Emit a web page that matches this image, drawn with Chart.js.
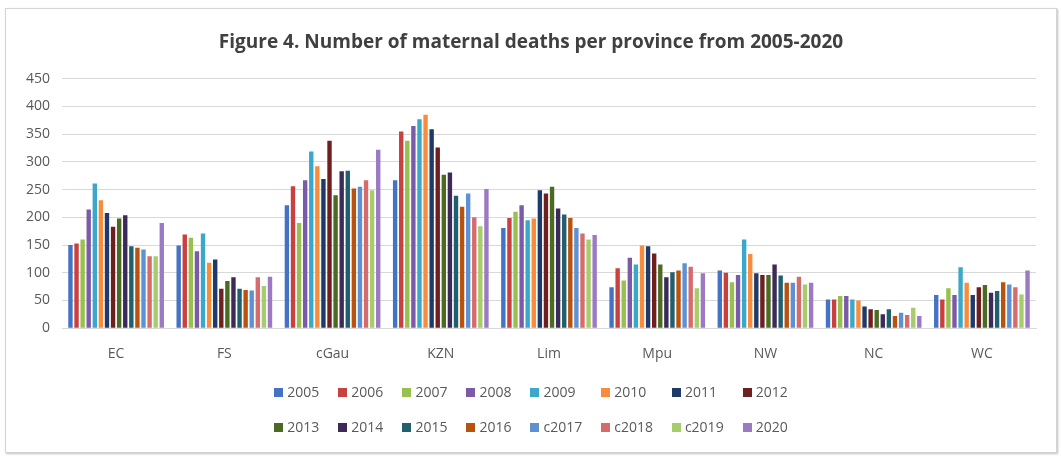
<!DOCTYPE html>
<html>
<head>
<meta charset="utf-8">
<script src="https://cdn.jsdelivr.net/npm/chart.js@4.4.1/dist/chart.umd.min.js"></script>
<style>
    body {
        margin: 0;
        background: #fff;
        font-family: "Open Sans", sans-serif;
    }
    #frame {
        position: absolute;
        left: 5px;
        top: 8px;
        width: 1050px;
        height: 443px;
        border: 1px solid #d4d4d4;
        box-shadow: 1px 1px 2px rgba(0, 0, 0, 0.25);
        background: #fff;
    }
    #chartBox {
        position: relative;
        width: 1050px;
        height: 383px;
    }
    #legend {
        position: absolute;
        left: 0;
        right: 0;
        top: 375px;
        display: grid;
        grid-template-columns: repeat(8, auto);
        justify-content: center;
        row-gap: 19px;
        column-gap: 19px;
        font-size: 14px;
        color: #595959;
    }
    #legend .item {
        display: flex;
        align-items: center;
        line-height: 16px;
    }
    #legend .box {
        width: 9px;
        height: 9px;
        margin-right: 4px;
    }
</style>
</head>
<body>
<div id="frame">
    <div id="chartBox"><canvas id="deathsChart"></canvas></div>
    <div id="legend"></div>
</div>
<script>
Chart.defaults.font.family = "'Open Sans', sans-serif";
Chart.defaults.color = "#595959";

// Provinces on the x axis
const provinces = ["EC", "FS", "cGau", "KZN", "Lim", "Mpu", "NW", "NC", "WC"];

// Series names (one per year)
const years = ["2005", "2006", "2007", "2008", "2009", "2010", "2011", "2012",
    "2013", "2014", "2015", "2016", "c2017", "c2018", "c2019", "2020"];

// Maternal deaths, one row per year, in province order
const deaths = [
    [150, 149, 222, 267, 181, 74, 104, 52, 60],   // 2005
    [153, 169, 256, 355, 199, 108, 100, 52, 52],  // 2006
    [160, 163, 190, 338, 210, 86, 83, 58, 72],    // 2007
    [214, 139, 267, 365, 222, 127, 96, 58, 60],   // 2008
    [261, 171, 319, 377, 195, 115, 160, 52, 110], // 2009
    [231, 118, 292, 385, 198, 149, 134, 50, 82],  // 2010
    [208, 124, 269, 359, 249, 148, 99, 39, 60],   // 2011
    [183, 71, 338, 326, 243, 135, 96, 34, 74],    // 2012
    [198, 85, 240, 277, 255, 115, 96, 33, 78],    // 2013
    [204, 92, 283, 281, 216, 92, 115, 25, 64],    // 2014
    [148, 71, 284, 239, 205, 101, 95, 34, 67],    // 2015
    [145, 69, 252, 219, 199, 104, 82, 22, 83],    // 2016
    [142, 68, 255, 243, 181, 117, 82, 28, 79],    // c2017
    [130, 92, 267, 200, 171, 111, 93, 24, 74],    // c2018
    [130, 76, 249, 184, 160, 72, 79, 37, 61],     // c2019
    [190, 93, 322, 251, 168, 99, 82, 22, 104],    // 2020
];

// Y axis ticks
const yTicks = [0, 50, 100, 150, 200, 250, 300, 350, 400, 450];

// Office-style palette
const palette = [
    "#4472c4", "#c9413f", "#97c04e", "#7b5ba8", "#3ba8c9", "#f98b3c",
    "#1f3a68", "#6e1f1f", "#4b6b22", "#3c2b58", "#1f5f6e", "#b9520f",
    "#5d91d4", "#d66b6b", "#a7cc6b", "#9b7ac3",
];

// HTML legend (two rows of eight like the original)
const htmlLegend = {
    id: "htmlLegend",
    afterUpdate(chart) {
        const el = document.getElementById("legend");
        el.innerHTML = "";
        chart.data.datasets.forEach((ds) => {
            const item = document.createElement("div");
            item.className = "item";
            const box = document.createElement("span");
            box.className = "box";
            box.style.background = ds.backgroundColor;
            const txt = document.createElement("span");
            txt.textContent = ds.label;
            item.appendChild(box);
            item.appendChild(txt);
            el.appendChild(item);
        });
    },
};

const ctx = document.getElementById("deathsChart").getContext("2d");
new Chart(ctx, {
    type: "bar",
    data: {
        labels: provinces,
        datasets: years.map((year, i) => ({
            label: year,
            data: deaths[i],
            backgroundColor: palette[i],
            barPercentage: 0.72,
            categoryPercentage: 0.9,
        })),
    },
    options: {
        responsive: true,
        maintainAspectRatio: false,
        animation: false,
        layout: {
            padding: { left: 0, right: 0, bottom: 13 },
        },
        plugins: {
            legend: { display: false },
            tooltip: { enabled: false },
            title: {
                display: true,
                text: "Figure 4. Number of maternal deaths per province from 2005-2020",
                color: "#404040",
                font: { size: 19, weight: "bold" },
                padding: { top: 22, bottom: 25 },
            },
        },
        scales: {
            y: {
                min: 0,
                max: 450,
                afterBuildTicks: (scale) => {
                    scale.ticks = yTicks.map((v) => ({ value: v }));
                },
                afterFit: (scale) => {
                    scale.width = 56;
                },
                ticks: {
                    padding: 12,
                    font: { size: 14 },
                },
                grid: {
                    color: "#d9d9d9",
                    drawTicks: false,
                },
                border: { display: false },
            },
            // empty right margin so the title stays centred on the frame
            yRight: {
                position: "right",
                ticks: { display: false },
                grid: { display: false },
                border: { display: false },
                afterFit: (scale) => {
                    scale.width = 20;
                },
            },
            x: {
                ticks: {
                    padding: 17,
                    font: { size: 14 },
                },
                grid: {
                    display: false,
                    drawTicks: false,
                },
                border: { color: "#d9d9d9" },
            },
        },
    },
    plugins: [htmlLegend],
});
</script>
</body>
</html>
